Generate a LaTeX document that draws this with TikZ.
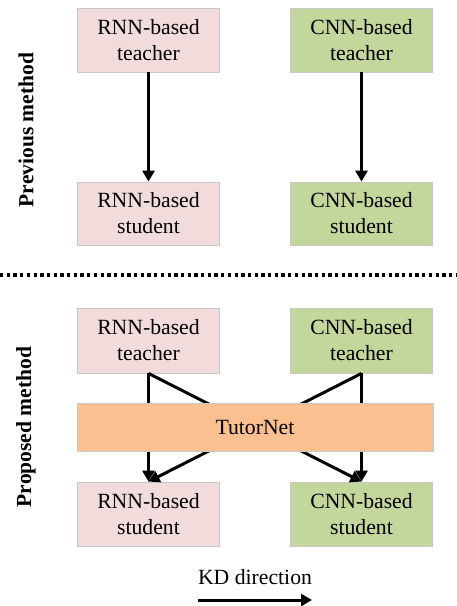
\documentclass[tikz,border=0pt]{standalone}
\usepackage{fontspec}
\setmainfont{Liberation Serif}
\usetikzlibrary{arrows.meta}
\definecolor{pinkbox}{HTML}{F2DCDB}
\definecolor{greenbox}{HTML}{C3D69B}
\definecolor{orangebox}{HTML}{FAC090}
\definecolor{edgegray}{HTML}{C8C8C8}
\begin{document}
\begin{tikzpicture}[x=1pt,y=-1pt,
  box/.style={draw=edgegray,line width=0.8pt,minimum width=142pt,minimum height=64pt,align=center,inner sep=0pt,font=\fontsize{21.7}{26}\selectfont},
  rnn/.style={box,fill=pinkbox},
  cnn/.style={box,fill=greenbox},
  conn/.style={line width=3pt,-{Triangle[width=12pt,length=11pt]}},
  side/.style={rotate=90,font=\fontsize{21.5}{26}\selectfont\bfseries}]
\useasboundingbox (0,0) rectangle (456,606);
% previous method
\node[rnn] (rt1) at (148.5,40) {RNN-based\\teacher};
\node[cnn] (ct1) at (361.5,40) {CNN-based\\teacher};
\node[rnn,minimum height=63pt] (rs1) at (148.5,213.5) {RNN-based\\student};
\node[cnn,minimum height=63pt] (cs1) at (361.5,213.5) {CNN-based\\student};
\draw[conn] (rt1) -- (rs1);
\draw[conn] (ct1) -- (cs1);
\node[side] (prev) at (26,130) {Previous method};
% separator
\coordinate (sepL) at (0,275);
\coordinate (sepR) at (456,275);
\draw[line width=3.3pt,dash pattern=on 3.3pt off 3.4pt] (sepL) -- (sepR);
% proposed method
\node[rnn,minimum height=65pt] (rt2) at (148.5,340.5) {RNN-based\\teacher};
\node[cnn,minimum height=65pt] (ct2) at (361.5,340.5) {CNN-based\\teacher};
\node[rnn] (rs2) at (148.5,514) {RNN-based\\student};
\node[cnn] (cs2) at (361.5,514) {CNN-based\\student};
\draw[conn] (rt2) -- (rs2);
\draw[conn] (ct2) -- (cs2);
\draw[conn] (rt2.south) -- (cs2.north);
\draw[conn] (ct2.south) -- (rs2.north);
\node[box,fill=orangebox,minimum width=356pt,minimum height=48pt] (tutor) at (255,427) {TutorNet};
\node[side] (prop) at (26,427) {Proposed method};
% legend
\node[font=\fontsize{21.7}{26}\selectfont] (kd) at (255,577) {KD direction};
\coordinate (kdL) at (198,600);
\coordinate (kdR) at (312,600);
\draw[conn] (kdL) -- (kdR);
\end{tikzpicture}
\end{document}
